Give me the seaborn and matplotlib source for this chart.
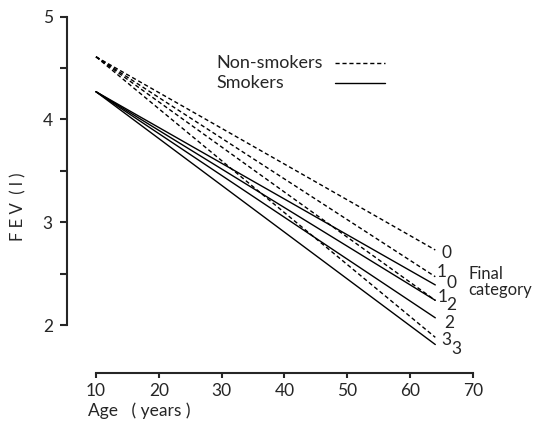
import numpy as np
import pandas as pd
import matplotlib
matplotlib.use("Agg")
import matplotlib.pyplot as plt
import seaborn as sns
from matplotlib.lines import Line2D

# FEV decline with age, by smoking status and final category
ages = [10, 64]
categories = ["0", "1", "2", "3"]
nonsmoker_start = [4.61, 4.61, 4.61, 4.61]
nonsmoker_end = [2.73, 2.47, 2.24, 1.88]
smoker_start = [4.27, 4.27, 4.27, 4.27]
smoker_end = [2.39, 2.24, 2.07, 1.81]

rows = []
for grp, starts, ends in [("Non-smokers", nonsmoker_start, nonsmoker_end),
                          ("Smokers", smoker_start, smoker_end)]:
    for cat, s, e in zip(categories, starts, ends):
        rows.append({"age": ages[0], "fev": s, "smoking": grp, "cat": cat, "line": grp + cat})
        rows.append({"age": ages[1], "fev": e, "smoking": grp, "cat": cat, "line": grp + cat})
df = pd.DataFrame(rows)

sns.set_style("ticks")
plt.rcParams["font.family"] = ["Lato", "DejaVu Sans"]

fig = plt.figure(figsize=(5.41, 4.22), dpi=100)
ax = fig.add_axes([66.7 / 541, 1 - 373 / 422, (473 - 66.7) / 541, (373 - 16.7) / 422])

sns.lineplot(data=df, x="age", y="fev", style="smoking", units="line", estimator=None,
             color="black", linewidth=1.0, legend=False, ax=ax,
             dashes={"Non-smokers": (3, 2), "Smokers": ""})

ax.set_xlim(5.34, 70)
ax.set_ylim(1.533, 5)
ax.set_xticks(range(10, 71, 10))
ax.set_yticks([2, 3, 4, 5])
ax.set_yticks([2.5, 3.5, 4.5], minor=True)
ax.spines["top"].set_visible(False)
ax.spines["right"].set_visible(False)
ax.spines["bottom"].set_bounds(10, 70)
ax.spines["left"].set_bounds(2, 5)
for sp in ["bottom", "left"]:
    ax.spines[sp].set_linewidth(1.5)
ax.tick_params(axis="x", direction="out", length=3.6, width=1.5, pad=3.5, labelsize=12.5)
ax.tick_params(axis="y", which="both", direction="out", length=5, width=1.5, pad=5, labelsize=12.5)
ax.set_xlabel("")
ax.set_ylabel("")

# end labels for each line (offsets in pixels)
ns_offsets = [(11, -3), (6, 5), (16, -5), (11, -3)]
s_offsets = [(16, 2), (7, 3), (14, -5), (21, -4)]
for cat, e, off in zip(categories, nonsmoker_end, ns_offsets):
    ax.annotate(cat, xy=(ages[1], e), xytext=off, textcoords="offset pixels",
                ha="center", va="center", fontsize=12.5)
for cat, e, off in zip(categories, smoker_end, s_offsets):
    ax.annotate(cat, xy=(ages[1], e), xytext=off, textcoords="offset pixels",
                ha="center", va="center", fontsize=12.5)

fig.text(468 / 541, 1 - 282 / 422, "Final\ncategory", ha="left", va="center",
         fontsize=12, linespacing=0.95)

# legend drawn by hand: text left, line sample right
fig.text(216.7 / 541, 1 - 62.7 / 422, "Non-smokers", ha="left", va="center", fontsize=13)
fig.text(216.7 / 541, 1 - 83 / 422, "Smokers", ha="left", va="center", fontsize=13)
fig.add_artist(Line2D([335 / 541, 385 / 541], [1 - 62.7 / 422] * 2, color="black",
                      linewidth=1.0, dashes=(3, 2)))
fig.add_artist(Line2D([335 / 541, 385 / 541], [1 - 83 / 422] * 2, color="black",
                      linewidth=1.0))

# axis titles
fig.text(18 / 541, 1 - 207 / 422, "F E V  ( l )", rotation=90, ha="center", va="center",
         fontsize=12)
fig.text(88 / 541, 1 - 411 / 422, "Age   ( years )", ha="left", va="center", fontsize=12.5)

fig.savefig("out.png", dpi=100)
